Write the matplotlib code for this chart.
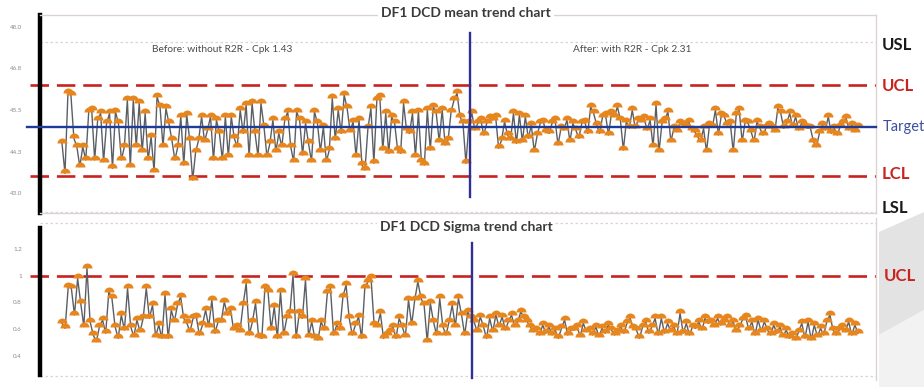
import numpy as np
import matplotlib
matplotlib.use("Agg")
import matplotlib.pyplot as plt
from matplotlib.patches import Polygon

plt.rcParams['font.family'] = ['Lato', 'DejaVu Sans']

# ---------------- data ----------------
mean_before = [
    44.50, 43.60, 46.00, 45.95, 44.65, 44.40, 43.80, 44.40, 44.00, 45.45,
    45.50, 44.00, 45.20, 45.40, 43.95, 45.10, 45.40, 43.75, 45.45, 45.10,
    44.00, 44.40, 45.80, 43.80, 45.80, 44.40, 45.70, 44.25, 45.40, 44.00,
    44.70, 43.65, 45.90, 45.60, 44.40, 45.55, 45.10, 44.60, 44.00, 44.40,
    45.30, 43.85, 45.35, 44.60, 43.40, 44.25, 44.60, 45.30, 44.55, 44.90,
    45.30, 44.00, 45.20, 44.80, 44.00, 45.30, 44.10, 45.30, 44.65, 44.40,
    45.50, 44.80, 45.65, 44.10, 45.70, 44.80, 44.10, 45.70, 45.00, 44.10,
    44.50, 45.20, 44.25, 44.80, 44.40, 45.20, 45.45, 44.40, 43.95, 45.45,
    45.20, 44.15, 45.10, 44.50, 43.95, 45.45, 45.10, 44.25, 45.00, 43.95,
    44.30, 45.85, 44.60, 45.50, 44.80, 45.95, 45.55, 44.85, 45.15, 44.10,
    45.20, 43.85, 43.70, 44.95, 45.55, 43.90, 45.80, 45.90, 44.30, 45.40,
    44.20, 45.30, 45.10, 44.30, 44.20, 45.70, 44.90, 44.80, 45.40, 44.10,
    45.45, 43.95, 43.85, 45.50, 44.30, 45.60, 45.40, 44.55, 45.50, 44.45,
    44.60, 45.45, 45.80, 46.00, 45.30, 45.10, 43.90, 45.10,
]
mean_after = [
    45.40, 44.90, 45.10, 45.20, 44.75, 45.10, 45.25, 45.20, 45.30,
    44.35, 44.60, 45.15, 44.75, 44.60, 45.40, 44.50, 45.35, 44.55, 45.30, 44.65, 45.05,
    44.25, 44.75, 45.10, 45.15, 44.85, 44.80, 45.10, 45.20, 44.45, 44.95, 44.90,
    45.20, 44.55, 45.10, 44.90, 44.65, 45.10, 45.15, 44.80, 45.60, 45.40, 45.05,
    44.80, 45.30, 45.35, 44.75, 45.40, 45.30, 45.60, 45.20, 44.30, 45.15, 44.95,
    45.50, 44.95, 45.20, 45.15, 45.25, 44.90, 45.20, 44.40, 45.65, 44.25, 45.10,
    45.20, 45.45, 44.55, 44.95, 44.85, 45.10, 45.05, 45.00, 45.15, 44.90, 44.85,
    44.70, 44.55, 44.95, 44.25, 45.05, 45.00, 45.50, 44.75, 45.35, 45.30, 45.05,
    45.10, 44.25, 45.35, 45.50, 44.55, 45.15, 45.10, 44.85, 44.55, 45.15, 44.95,
    44.75, 44.95, 45.05, 44.95, 44.85, 45.55, 45.40, 44.95, 45.10, 45.40, 45.00,
    45.30, 44.90, 45.10, 45.00, 44.95, 44.95, 44.55, 44.40, 44.80, 45.05, 44.90,
    45.30, 44.80, 44.95, 44.75, 45.00, 45.10, 45.25, 44.90, 45.05, 44.85, 45.00,
]
sigma_before = [
    0.643, 0.605, 0.918, 0.905, 0.705, 0.980, 0.793, 0.618, 1.055, 0.655,
    0.555, 0.505, 0.618, 0.668, 0.568, 0.880, 0.830, 0.618, 0.530, 0.705,
    0.593, 0.905, 0.618, 0.543, 0.668, 0.580, 0.680, 0.905, 0.680, 0.780,
    0.543, 0.630, 0.530, 0.855, 0.530, 0.743, 0.655, 0.780, 0.843, 0.680,
    0.643, 0.580, 0.680, 0.693, 0.555, 0.630, 0.743, 0.618, 0.818, 0.568,
    0.655, 0.655, 0.805, 0.705, 0.743, 0.593, 0.618, 0.580, 0.780, 0.943,
    0.555, 0.655, 0.793, 0.543, 0.530, 0.905, 0.880, 0.593, 0.768, 0.530,
    0.880, 0.555, 0.680, 0.718, 1.005, 0.530, 0.718, 0.680, 0.968, 0.543,
    0.655, 0.530, 0.518, 0.655, 0.593, 0.868, 0.905, 0.555, 0.630, 0.593,
    0.843, 0.930, 0.680, 0.555, 0.630, 0.693, 0.530, 0.905, 0.955, 0.980,
    0.630, 0.618, 0.718, 0.530, 0.555, 0.580, 0.618, 0.530, 0.680, 0.618,
    0.543, 0.818, 0.630, 0.818, 0.955, 0.830, 0.780, 0.505, 0.793, 0.655,
    0.555, 0.830, 0.618, 0.555, 0.655, 0.780, 0.618, 0.830, 0.705, 0.555,
    0.730, 0.680,
]
sigma_after = [
    0.655, 0.580, 0.693, 0.618, 0.530, 0.680, 0.580, 0.705, 0.618, 0.693, 0.593,
    0.655, 0.705, 0.618, 0.655, 0.730, 0.680, 0.655, 0.618, 0.580, 0.593,
    0.555, 0.630, 0.568, 0.618, 0.555, 0.593, 0.530, 0.605, 0.668, 0.555, 0.593,
    0.593, 0.618, 0.543, 0.643, 0.580, 0.593, 0.555, 0.618, 0.543, 0.605,
    0.568, 0.630, 0.593, 0.555, 0.580, 0.618, 0.568, 0.643, 0.680, 0.605, 0.593,
    0.530, 0.618, 0.655, 0.568, 0.618, 0.680, 0.555, 0.680, 0.568, 0.643,
    0.580, 0.618, 0.555, 0.718, 0.568, 0.643, 0.555, 0.618, 0.605, 0.655, 0.593,
    0.680, 0.643, 0.655, 0.618, 0.680, 0.630, 0.655, 0.680, 0.618, 0.655,
    0.580, 0.618, 0.668, 0.693, 0.593, 0.655, 0.555, 0.668, 0.580, 0.655, 0.593,
    0.555, 0.630, 0.568, 0.618, 0.543, 0.593, 0.530, 0.555, 0.518, 0.580,
    0.643, 0.530, 0.655, 0.518, 0.630, 0.543, 0.605, 0.555, 0.655, 0.705, 0.593,
    0.555, 0.593, 0.618, 0.580, 0.655, 0.555, 0.630, 0.568,
]

USL, UCL_M, TARGET, LCL_M, LSL = 47.54, 46.25, 45.00, 43.52, 42.44
UCL_S = 1.0
mean_ticks = [48.0, 46.75, 45.5, 44.25, 43.0]
mean_ticklabels = ["48.0", "46.8", "45.5", "44.3", "43.0"]
sigma_ticks = [1.2, 1.0, 0.8, 0.6, 0.4]
sigma_ticklabels = ["1.2", "1", "0.8", "0.6", "0.4"]

# ---------------- layout helpers ----------------
W, H = 924, 387
fig = plt.figure(figsize=(W / 100, H / 100), dpi=100)
fig.patch.set_facecolor("white")


def fx(px):
    return px / W


def fy(py):
    return 1 - py / H


ORANGE = "#E8861E"
LINEGRAY = "#5a5f66"
RED = "#C9231F"
BLUE = "#1E3B98"
VBLUE = "#2E3192"
FRAME = "#dcd4d4"

# light slide background shape at right
fig.patches.append(Polygon([(fx(879), fy(232)), (fx(924), fy(212)), (fx(924), fy(310)), (fx(879), fy(335))],
                           closed=True, transform=fig.transFigure, facecolor="#e3e3e3", edgecolor="none", zorder=0))
fig.patches.append(Polygon([(fx(879), fy(335)), (fx(924), fy(310)), (fx(924), fy(387)), (fx(879), fy(387))],
                           closed=True, transform=fig.transFigure, facecolor="#f2f2f2", edgecolor="none", zorder=0))

ax1 = fig.add_axes([fx(40), fy(213), fx(876) - fx(40), fy(15) - fy(213)])
ax2 = fig.add_axes([fx(40), fy(380), fx(876) - fx(40), fy(218) - fy(380)])


def draw_series(ax, before, after):
    vals = np.array(before + after, dtype=float)
    n = len(vals)
    x = np.arange(n)
    ax.plot(x, vals, color=LINEGRAY, lw=1.0, zorder=3)
    ax.plot(x, vals, ls="none", marker="o", ms=7.2, fillstyle="top",
            markerfacecolor=ORANGE, markerfacecoloralt="none", markeredgewidth=0, zorder=4)
    s = (858 - 62) / (n - 1)
    ax.set_xlim(-(62 - 40) / s, (n - 1) + (876 - 858) / s)
    return len(before) - 0.5


# ---------- top: mean ----------
split1 = draw_series(ax1, mean_before, mean_after)
ax1.set_ylim(42.41, 48.35)
ax1.axhline(UCL_M, xmin=-0.012, xmax=1.0, color=RED, lw=1.9, dashes=(7, 3), clip_on=False, zorder=2)
ax1.axhline(LCL_M, xmin=-0.012, xmax=1.0, color=RED, lw=1.9, dashes=(7, 3), clip_on=False, zorder=2)
ax1.axhline(TARGET, xmin=-0.016, xmax=1.0, color=BLUE, lw=1.7, clip_on=False, zorder=5)
ax1.axhline(USL, color=FRAME, lw=0.9, ls=(0, (2, 2)), zorder=1)
ax1.axhline(LSL, color=FRAME, lw=0.9, ls=(0, (2, 2)), zorder=1)
ax1.axvline(split1, ymin=(213 - 197) / 198, ymax=(213 - 33) / 198, color=VBLUE, lw=1.7, zorder=6)
ax1.set_yticks(mean_ticks)
ax1.set_yticklabels(mean_ticklabels)

# ---------- bottom: sigma ----------
split2 = draw_series(ax2, sigma_before, sigma_after)
ax2.set_ylim(0.2175, 1.4325)
ax2.axhline(UCL_S, xmin=-0.012, xmax=1.0, color=RED, lw=1.9, dashes=(7, 3), clip_on=False, zorder=2)
ax2.axhline(1.395, color=FRAME, lw=0.9, ls=(0, (2, 2)), zorder=1)
ax2.axhline(0.2475, color=FRAME, lw=0.9, ls=(0, (2, 2)), zorder=1)
ax2.axvline(split2, ymin=(380 - 378) / 162, ymax=(380 - 243) / 162, color=VBLUE, lw=1.7, zorder=6)
ax2.set_yticks(sigma_ticks)
ax2.set_yticklabels(sigma_ticklabels)

for ax in (ax1, ax2):
    ax.set_xticks([])
    ax.tick_params(axis="y", length=0, pad=13, labelsize=4.5, labelcolor="#8c8c8c")
    ax.spines["left"].set_color("black")
    ax.spines["left"].set_linewidth(3.2)
    for side in ("top", "right", "bottom"):
        ax.spines[side].set_color(FRAME)
        ax.spines[side].set_linewidth(1.0)
    ax.set_facecolor("white")

ax2.spines["top"].set_visible(False)
ax2.spines["bottom"].set_visible(False)
ax2.spines["left"].set_bounds(0.2575, 1.3575)

# ---------- texts ----------
fig.text(fx(466), fy(13), "DF1 DCD mean trend chart", ha="center", va="center",
         fontsize=10, fontweight="bold", color="#3a3a3a",
         bbox=dict(facecolor="white", edgecolor="none", pad=2), zorder=10)
fig.text(fx(466), fy(227), "DF1 DCD Sigma trend chart", ha="center", va="center",
         fontsize=10, fontweight="bold", color="#3a3a3a",
         bbox=dict(facecolor="white", edgecolor="none", pad=2), zorder=10)
fig.text(fx(152), fy(50), "Before: without R2R - Cpk 1.43", ha="left", va="center",
         fontsize=7.3, color="#4a4a4a", zorder=10)
fig.text(fx(573), fy(50), "After: with R2R - Cpk 2.31", ha="left", va="center",
         fontsize=7.3, color="#4a4a4a", zorder=10)

fig.text(fx(882), fy(45), "USL", ha="left", va="center", fontsize=12, fontweight="bold", color="#1a1a1a", zorder=10)
fig.text(fx(882), fy(86), "UCL", ha="left", va="center", fontsize=12, fontweight="bold", color=RED, zorder=10)
fig.text(fx(883), fy(127), "Target", ha="left", va="center", fontsize=10.5, color="#3b4f9e", zorder=10)
fig.text(fx(882), fy(174), "LCL", ha="left", va="center", fontsize=12, fontweight="bold", color=RED, zorder=10)
fig.text(fx(882), fy(208), "LSL", ha="left", va="center", fontsize=12, fontweight="bold", color="#1a1a1a", zorder=10)
fig.text(fx(884), fy(276), "UCL", ha="left", va="center", fontsize=12, fontweight="bold", color=RED, zorder=10)

fig.savefig("out.png", dpi=100, facecolor="white")
